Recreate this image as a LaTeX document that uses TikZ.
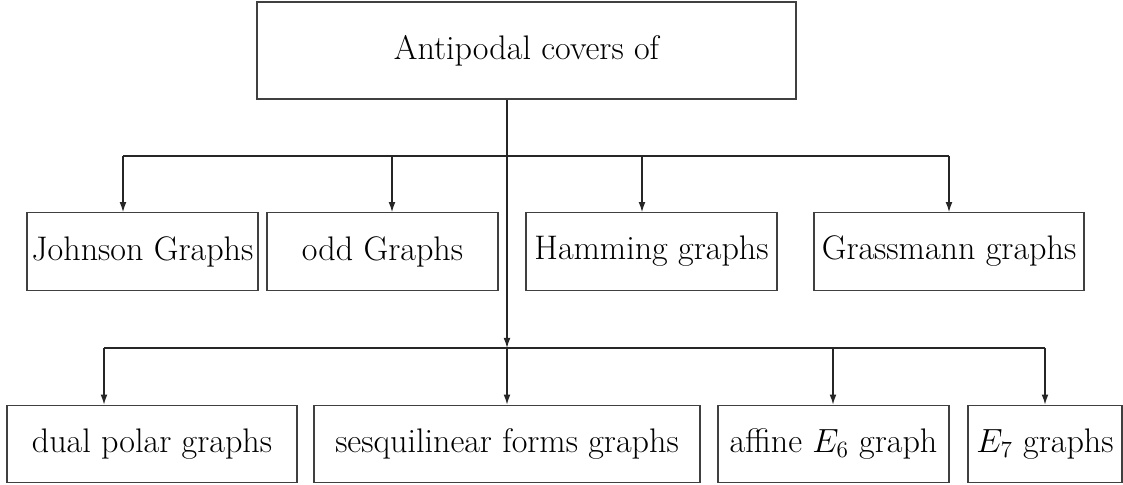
\documentclass[tikz,border=0pt]{standalone}
\usetikzlibrary{arrows.meta}
% one drawing unit in points
\newcommand{\pxl}{0.619pt}
\begin{document}
\begin{tikzpicture}[x=\pxl,y=-\pxl,
  font=\fontsize{21.1}{25}\selectfont,
  box/.style={draw=black!75,line width=0.8pt,inner sep=0pt,minimum height=77.5*\pxl},
  link/.style={draw=black!85,line width=0.75pt},
  arr/.style={link,-{Latex[length=6.2pt,width=4.2pt]}}]
\useasboundingbox (0,0) rectangle (1123,484);

% root
\node[box,minimum width=539*\pxl,minimum height=97*\pxl] (root) at (526.5,50.5) {Antipodal covers of};

% first row
\node[box,minimum width=231*\pxl] (john) at (142.5,251.5) {Johnson Graphs};
\node[box,minimum width=231*\pxl] (odd)  at (382.5,251.5) {odd Graphs};
\node[box,minimum width=251*\pxl] (ham)  at (651.5,251.5) {Hamming graphs};
\node[box,minimum width=270*\pxl] (gra)  at (949,251.5)   {Grassmann graphs};

% second row
\node[box,minimum width=290*\pxl] (dual) at (152,444)   {dual polar graphs};
\node[box,minimum width=386*\pxl] (sesq) at (507,444)   {sesquilinear forms graphs};
\node[box,minimum width=231*\pxl] (aff)  at (833.5,444) {affine $E_6$ graph};
\node[box,minimum width=154*\pxl] (esev) at (1045,444)  {$E_7$ graphs};

% branch points on the two bars
\coordinate (u1) at (123,156);
\coordinate (u2) at (392,156);
\coordinate (u3) at (642,156);
\coordinate (u4) at (949,156);
\coordinate (l1) at (104,348);
\coordinate (l2) at (507,348);
\coordinate (l3) at (833,348);
\coordinate (l4) at (1045,348);

% trunk from the root down to the lower bar
\draw[arr] (root.south -| l2) -- (l2);

% upper bar and its drops
\draw[link] (u1) -- (u4);
\draw[arr] (u1) -- (u1 |- john.north);
\draw[arr] (u2) -- (u2 |- odd.north);
\draw[arr] (u3) -- (u3 |- ham.north);
\draw[arr] (u4) -- (u4 |- gra.north);

% lower bar and its drops
\draw[link] (l1) -- (l4);
\draw[arr] (l1) -- (l1 |- dual.north);
\draw[arr] (l2) -- (l2 |- sesq.north);
\draw[arr] (l3) -- (l3 |- aff.north);
\draw[arr] (l4) -- (l4 |- esev.north);
\end{tikzpicture}
\end{document}
